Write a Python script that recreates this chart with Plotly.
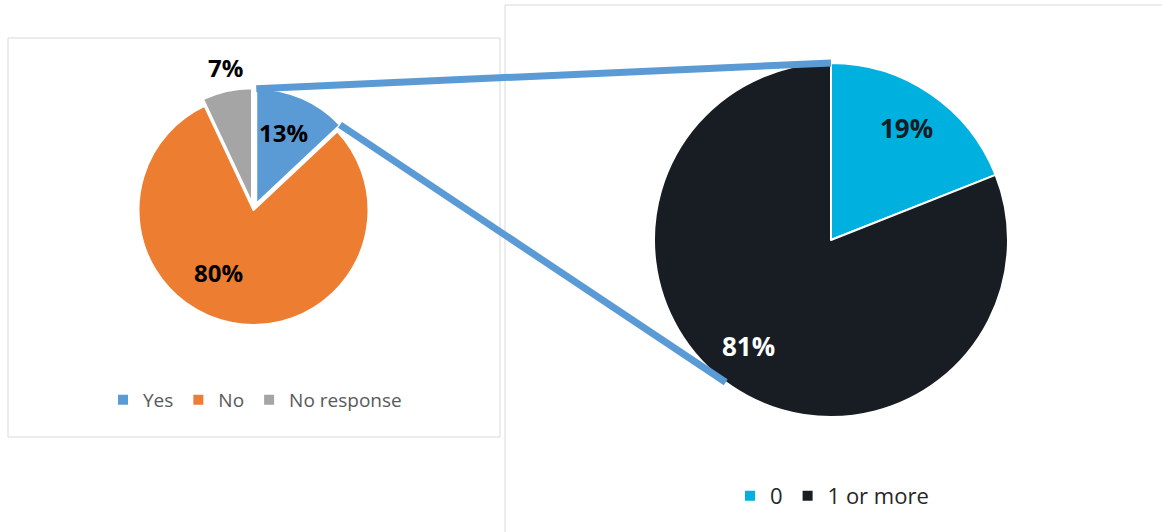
import math
import plotly.graph_objects as go

# ---------------- data ----------------
main_labels = ["Yes", "No", "No response"]
main_values = [13, 80, 7]
main_colors = ["#5B9BD5", "#ED7D31", "#A5A5A5"]

sub_labels = ["0", "1 or more"]
sub_values = [19, 81]
sub_colors = ["#00B0DF", "#181C23"]

# ---------------- geometry (pixels) ----------------
W, H = 1162, 532
PULL = 0.06
C1, R1 = (253.5, 210.0), 115.0   # left pie centre / radius
C2, R2 = (831.0, 240.0), 177.0   # right pie centre / radius

# label placement (angle clockwise from 12 o'clock, fraction of radius)
main_label_pos = [(21, 0.72), (209, 0.62), (349, 1.26)]
sub_label_pos = [(34, 0.76), (218, 0.76)]
main_label_colors = ["black", "black", "black"]
sub_label_colors = ["#181C23", "white"]


def px(x):
    return x / W


def py(y):
    return 1 - y / H


def on_circle(c, r, deg):
    a = math.radians(deg)
    return c[0] + r * math.sin(a), c[1] - r * math.cos(a)


def pct(vals):
    s = sum(vals)
    return [f"{round(100 * v / s)}%" for v in vals]


r1_dom = R1 * (1 + PULL)
fig = go.Figure()
fig.add_trace(go.Pie(
    labels=main_labels, values=main_values, sort=False, direction="clockwise",
    rotation=0, pull=[PULL, 0, PULL],
    marker=dict(colors=main_colors, line=dict(color="white", width=2)),
    textinfo="none",
    domain=dict(x=[px(C1[0] - r1_dom), px(C1[0] + r1_dom)],
                y=[py(C1[1] + r1_dom), py(C1[1] - r1_dom)]),
    legend="legend", hoverinfo="label+percent",
))
fig.add_trace(go.Pie(
    labels=sub_labels, values=sub_values, sort=False, direction="clockwise",
    rotation=0,
    marker=dict(colors=sub_colors, line=dict(color="white", width=2)),
    textinfo="none",
    domain=dict(x=[px(C2[0] - R2), px(C2[0] + R2)],
                y=[py(C2[1] + R2), py(C2[1] - R2)]),
    legend="legend2", hoverinfo="label+percent",
))

# ---------------- data labels ----------------
annotations = []
for txt, (ang, fr), col in zip(pct(main_values), main_label_pos, main_label_colors):
    x, y = on_circle(C1, R1 * fr, ang)
    annotations.append(dict(x=px(x), y=py(y), xref="paper", yref="paper", text=txt,
                            showarrow=False, xanchor="center", yanchor="middle",
                            font=dict(family="Open Sans", size=24, color=col, weight="bold")))
for txt, (ang, fr), col in zip(pct(sub_values), sub_label_pos, sub_label_colors):
    x, y = on_circle(C2, R2 * fr, ang)
    annotations.append(dict(x=px(x), y=py(y), xref="paper", yref="paper", text=txt,
                            showarrow=False, xanchor="center", yanchor="middle",
                            font=dict(family="Open Sans", size=26, color=col, weight="bold")))

# ---------------- frames ----------------
shapes = [
    dict(type="rect", xref="paper", yref="paper", x0=px(8), x1=px(500), y0=py(437), y1=py(38),
         line=dict(color="#D9D9D9", width=1), layer="below"),
    dict(type="line", xref="paper", yref="paper", x0=px(505), x1=px(505), y0=py(5), y1=0,
         line=dict(color="#D9D9D9", width=1), layer="below"),
    dict(type="line", xref="paper", yref="paper", x0=px(505), x1=1, y0=py(5), y1=py(5),
         line=dict(color="#D9D9D9", width=1), layer="below"),
]

# ---------------- connectors (from the pie geometry) ----------------
yes_end_angle = 360 * main_values[0] / sum(main_values)
pull_off = R1 * PULL
mid_yes = math.radians(yes_end_angle / 2)
c1p = (C1[0] + pull_off * math.sin(mid_yes), C1[1] - pull_off * math.cos(mid_yes))
p_a = on_circle(c1p, R1, 0)
p_b = on_circle(c1p, R1, yes_end_angle)
q_a = on_circle(C2, R2, 0)
q_b = on_circle(C2, R2, 216.5)
for (a, b) in [(p_a, q_a), (p_b, q_b)]:
    shapes.append(dict(type="line", xref="paper", yref="paper",
                       x0=px(a[0]), y0=py(a[1]), x1=px(b[0]), y1=py(b[1]),
                       line=dict(color="#5B9BD5", width=7), layer="above"))

fig.update_layout(
    width=W, height=H, margin=dict(l=0, r=0, t=0, b=0),
    paper_bgcolor="white", plot_bgcolor="white",
    shapes=shapes, annotations=annotations,
    legend=dict(orientation="h", x=px(255), xanchor="center", y=py(400), yanchor="middle",
                font=dict(family="Open Sans", size=19, color="#595959"),
                bgcolor="rgba(0,0,0,0)", itemclick=False, itemwidth=30),
    legend2=dict(orientation="h", x=px(832), xanchor="center", y=py(496), yanchor="middle",
                 font=dict(family="Open Sans", size=22, color="#262626"),
                 bgcolor="rgba(0,0,0,0)", itemclick=False, itemwidth=30),
)

fig.write_html("out.html", config={"displayModeBar": False},
               post_script="document.body.style.margin='0px';")
